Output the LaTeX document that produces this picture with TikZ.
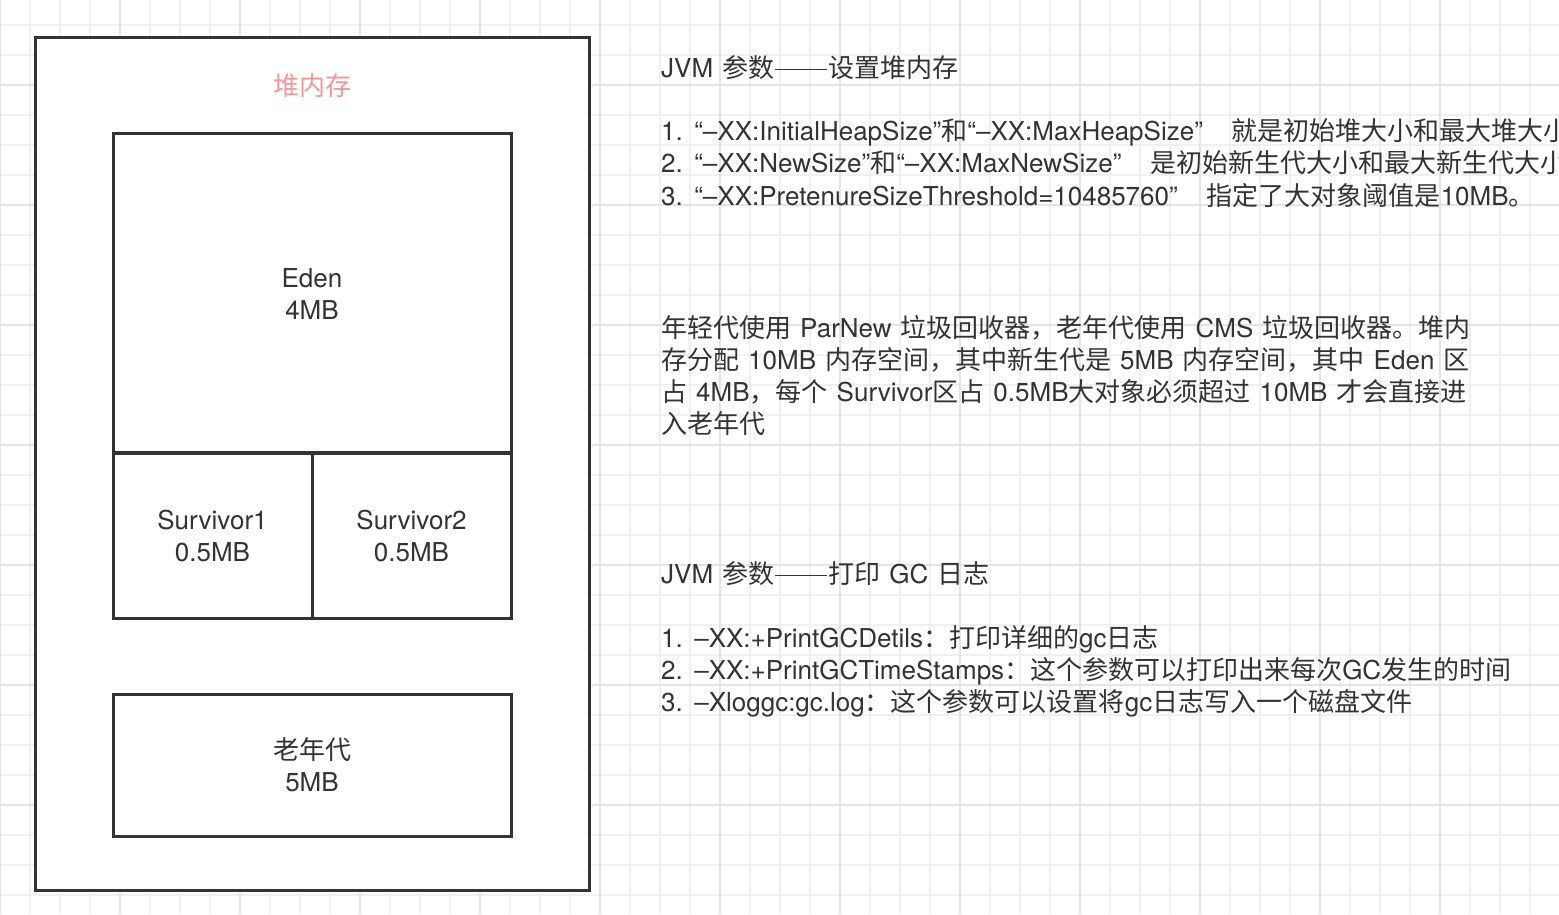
\documentclass[tikz,border=0pt]{standalone}
\usepackage{fontspec}
\setmainfont{TeX Gyre Heros}[WordSpace=1.25]
\newfontfamily\cjk{Noto Sans CJK SC}
\newcommand\zh[1]{{\cjk #1}}
\newcommand\oq{“}
\newcommand\cq{”\hspace{29pt}}
\newcommand\dashes{\hspace{1pt}\rule[7pt]{52pt}{1.3pt}\hspace{1pt}}
\definecolor{gridminor}{HTML}{F0F0F0}
\definecolor{gridmajor}{HTML}{E4E4E4}
\definecolor{ink}{HTML}{333333}
\definecolor{heappink}{HTML}{F09898}
\tikzset{
  minorline/.style={draw=gridminor, line width=1.5pt},
  majorline/.style={draw=gridmajor, line width=1.5pt},
  membox/.style={draw=ink, line width=3pt, fill=white, inner sep=0pt, align=center,
     text=ink, font=\fontsize{26}{32}\selectfont},
  txt/.style={anchor=base west, inner sep=0pt, text=ink, font=\fontsize{26}{32}\selectfont},
  heaplabel/.style={inner sep=0pt, text=heappink, font=\fontsize{26}{31}\selectfont\cjk}
}
\begin{document}
\begin{tikzpicture}[x=1pt, y=-1pt]
\useasboundingbox (0,0) rectangle (1559,914);
\clip (0,0) rectangle (1559,914);
\fill[white] (0,0) rectangle (1559,914);
% grid
\foreach \x in {0,30,...,1560} \draw[minorline] (\x,0) -- (\x,914);
\foreach \y in {25,55,...,895} \draw[minorline] (0,\y) -- (1559,\y);
\foreach \x in {0,120,...,1440} \draw[majorline] (\x,0) -- (\x,914);
\foreach \y in {85,205,...,805} \draw[majorline] (0,\y) -- (1559,\y);
% heap
\node[membox, minimum width=554pt, minimum height=853pt] (heap) at (312,463.5) {};
\node[heaplabel] (heapname) at (312,86) {堆内存};
\node[draw=ink, line width=3pt, fill=white, minimum width=398pt, minimum height=319pt] (eden) at (312,292.5) {};
\node[membox, draw=none, fill=none] (edenlabel) at (312,294) {Eden\\4MB};
\node[membox, minimum width=199pt, minimum height=165pt] (s1) at (212.5,535.5) {Survivor1\\0.5MB};
\node[membox, minimum width=199pt, minimum height=165pt] (s2) at (411.5,535.5) {Survivor2\\0.5MB};
\node[membox, minimum width=398pt, minimum height=142pt] (old) at (312,765) {\zh{老年代}\\5MB};
% right text
\node[txt] (h1) at (661,77) {JVM \zh{参数}\dashes\zh{设置堆内存}};
\node[txt] (a1) at (661,140) {1. \oq–XX:InitialHeapSize”\zh{和}“–XX:MaxHeapSize\cq{}\zh{就是初始堆大小和最大堆大小}};
\node[txt] (a2) at (661,172) {2. \oq–XX:NewSize”\zh{和}“–XX:MaxNewSize\cq{}\zh{是初始新生代大小和最大新生代大小}};
\node[txt] (a3) at (661,205) {3. \oq–XX:PretenureSizeThreshold=10485760\cq{}\zh{指定了大对象阈值是}10MB\zh{。}};
\node[txt] (p1) at (661,337) {\zh{年轻代使用} ParNew \zh{垃圾回收器，老年代使用} CMS \zh{垃圾回收器。堆内}};
\node[txt] (p2) at (661,369) {\zh{存分配} 10MB \zh{内存空间，其中新生代是} 5MB \zh{内存空间，其中} Eden \zh{区}};
\node[txt] (p3) at (661,401) {\zh{占} 4MB\zh{，每个} Survivor\zh{区占} 0.5MB\zh{大对象必须超过} 10MB \zh{才会直接进}};
\node[txt] (p4) at (661,433) {\zh{入老年代}};
\node[txt] (h2) at (661,583) {JVM \zh{参数}\dashes\zh{打印} GC \zh{日志}};
\node[txt] (b1) at (661,647) {1. –XX:+PrintGCDetils\zh{：打印详细的}gc\zh{日志}};
\node[txt] (b2) at (661,679) {2. –XX:+PrintGCTimeStamps\zh{：这个参数可以打印出来每次}GC\zh{发生的时间}};
\node[txt] (b3) at (661,711) {3. –Xloggc:gc.log\zh{：这个参数可以设置将}gc\zh{日志写入一个磁盘文件}};
\end{tikzpicture}
\end{document}
